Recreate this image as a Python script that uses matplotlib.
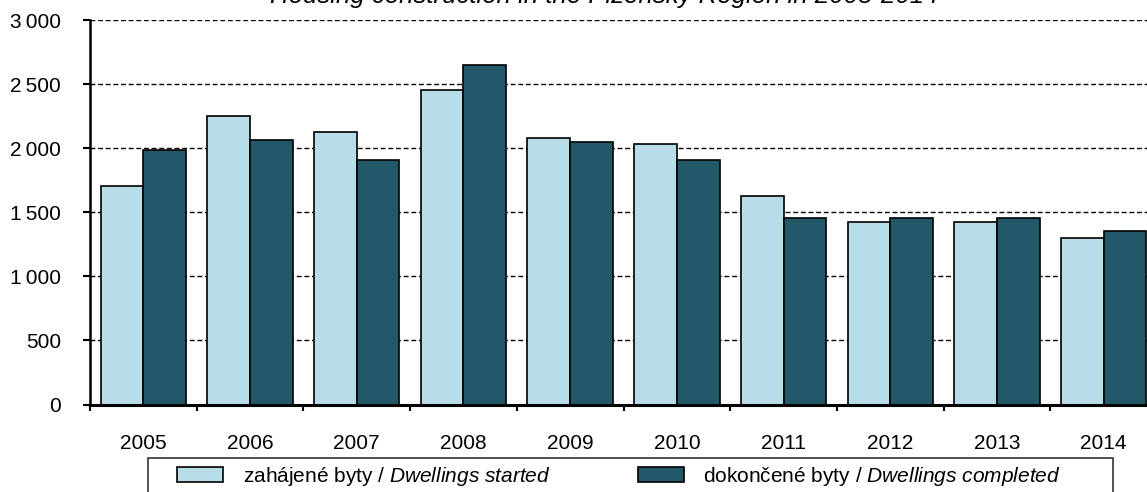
import numpy as np
import matplotlib
matplotlib.use("Agg")
import matplotlib.pyplot as plt
from matplotlib.patches import Patch, Rectangle

plt.rcParams['font.family'] = ['Liberation Sans', 'DejaVu Sans']
plt.rcParams['mathtext.fontset'] = 'custom'
plt.rcParams['mathtext.it'] = 'Liberation Sans:italic'
plt.rcParams['mathtext.rm'] = 'Liberation Sans'

years = ['2005', '2006', '2007', '2008', '2009', '2010', '2011', '2012', '2013', '2014']
started = [1705, 2250, 2125, 2453, 2078, 2031, 1625, 1422, 1422, 1302]
completed = [1982, 2065, 1904, 2652, 2049, 1906, 1455, 1455, 1455, 1356]
yticks = [0, 500, 1000, 1500, 2000, 2500, 3000]
ytick_labels = ['0', '500', '1\u2009000', '1\u2009500', '2\u2009000', '2\u2009500', '3\u2009000']

light = '#B7DEE8'
dark = '#215968'

W, H = 1147, 492
fig = plt.figure(figsize=(W / 100, H / 100), dpi=100)
ax = fig.add_axes([90 / W, 1 - 404.5 / H, 1067 / W, 384.5 / H])

x = np.arange(len(years))
w = 0.4
ax.bar(x - w / 2, started, w, color=light, edgecolor='black', linewidth=1.2, zorder=3)
ax.bar(x + w / 2, completed, w, color=dark, edgecolor='black', linewidth=1.2, zorder=3)

ax.set_xlim(-0.5, len(years) - 0.5)
ax.set_ylim(0, 3000)
ax.set_yticks(yticks)
ax.set_yticklabels(ytick_labels)
ax.set_xticks(x)
ax.set_xticklabels(years)
ax.set_xticks(np.arange(len(years) + 1) - 0.5, minor=True)
ax.tick_params(axis='x', which='major', length=0, pad=21, labelsize=15)
ax.tick_params(axis='x', which='minor', length=4.5, width=1.5, direction='out')
ax.tick_params(axis='y', length=5, width=1.5, direction='out', pad=16, labelsize=15)

for v in yticks[1:]:
    ax.axhline(v, color='black', linestyle=(0, (3.5, 2)), linewidth=1.0, zorder=1)

for s in ['top', 'right']:
    ax.spines[s].set_visible(False)
ax.spines['left'].set_linewidth(1.8)
ax.spines['bottom'].set_linewidth(2.2)
ax.spines['left'].set_zorder(4)
ax.spines['bottom'].set_zorder(4)

# title sits mostly above the visible area, as in the source
fig.text(604 / W, 1 - 3.5 / H, 'Housing construction in the Plzeňský Region in 2005-2014',
         ha='center', va='baseline', fontsize=18.5, style='italic')

# legend frame (runs off the bottom of the image)
fig.add_artist(Rectangle((148 / W, 1 - 520 / H), (1113 - 148) / W, 62 / H,
                         transform=fig.transFigure, fill=False, edgecolor='#333333',
                         linewidth=1.2))
handles = [Patch(facecolor=light, edgecolor='black', linewidth=1.2),
           Patch(facecolor=dark, edgecolor='black', linewidth=1.2)]
labels = ['zahájené byty / $\\it{Dwellings\\ started}$',
          'dokončené byty / $\\it{Dwellings\\ completed}$']
fig.legend(handles, labels, loc='center left', bbox_to_anchor=(177 / W, 1 - 476 / H),
           ncol=2, frameon=False, borderpad=0, borderaxespad=0, fontsize=15,
           handlelength=2.2, handleheight=0.7, handletextpad=0.95, columnspacing=4.2)

fig.savefig('out.png', dpi=100)
